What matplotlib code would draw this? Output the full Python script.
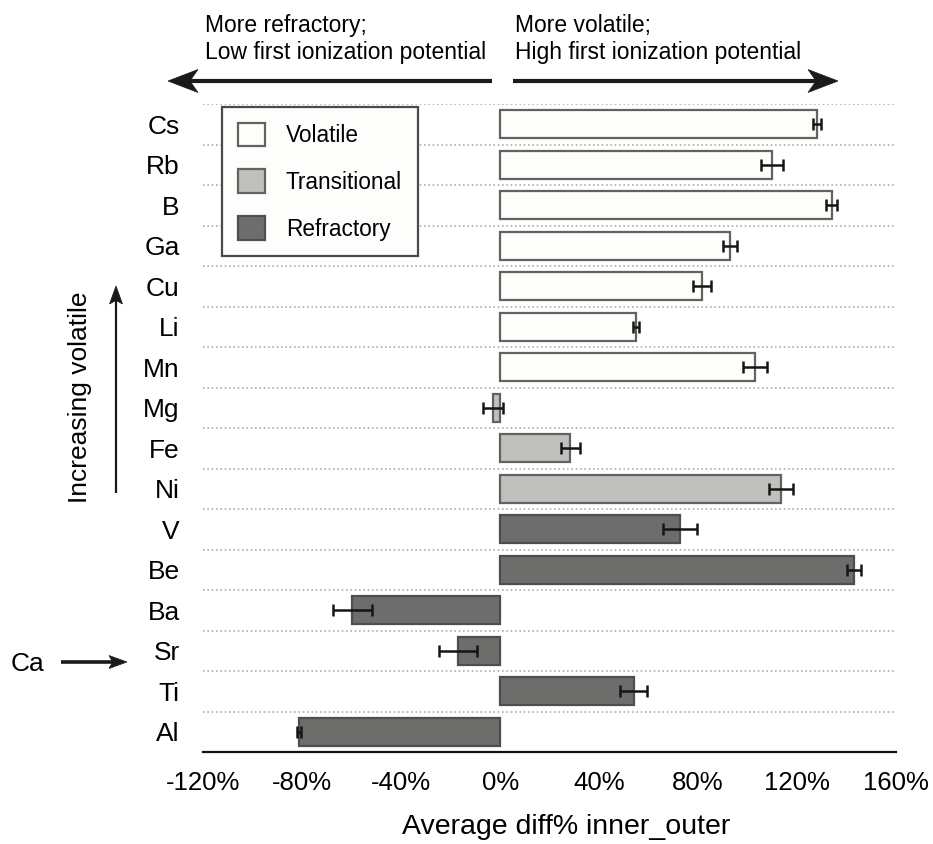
import numpy as np
import matplotlib
matplotlib.use("Agg")
from matplotlib import pyplot as plt
from matplotlib.patches import Patch, Polygon
from matplotlib.lines import Line2D

plt.rcParams['font.family'] = ['Liberation Sans', 'DejaVu Sans']

# === DATA ===
elements = ['Cs', 'Rb', 'B', 'Ga', 'Cu', 'Li', 'Mn', 'Mg',
            'Fe', 'Ni', 'V', 'Be', 'Ba', 'Sr', 'Ti', 'Al']
diff_pct = [128, 110, 134, 93, 81.5, 55, 103, -2.9,
            28.3, 113.6, 72.6, 143, -59.7, -17.1, 53.9, -81.4]
diff_err = [1.7, 4.4, 2.2, 2.8, 3.6, 1.3, 4.7, 4.0,
            3.8, 4.8, 6.8, 3.0, 8.0, 7.8, 5.3, 0.8]
groups = ['Volatile'] * 7 + ['Transitional'] * 3 + ['Refractory'] * 6
group_names = ['Volatile', 'Transitional', 'Refractory']
x_ticks = [-120, -80, -40, 0, 40, 80, 120, 160]

face = {'Volatile': '#fdfdf9', 'Transitional': '#c0c0bc', 'Refractory': '#6d6d6b'}
edge = {'Volatile': '#626262', 'Transitional': '#626262', 'Refractory': '#4e4e4e'}

W, H = 933, 844


def fx(px):
    return px / W


def fy(py):
    return 1 - py / H


def stealth_arrow(fig, x0, y0, x1, y1, lw, head_len, head_w, notch=0.27, color='#1a1a1a'):
    # arrow in figure pixel coords (y down) with a concave (stealth) head
    u = np.array([x1 - x0, y1 - y0], dtype=float)
    u /= np.hypot(*u)
    nrm = np.array([-u[1], u[0]])
    tip = np.array([x1, y1], dtype=float)
    back = tip - u * head_len
    inner = tip - u * head_len * (1 - notch)
    pts = [tip, back + nrm * head_w / 2, inner, back - nrm * head_w / 2]
    pts = [(fx(p[0]), fy(p[1])) for p in pts]
    fig.add_artist(Line2D([fx(x0), fx(inner[0])], [fy(y0), fy(inner[1])],
                          lw=lw, color=color, transform=fig.transFigure, solid_capstyle='butt'))
    fig.add_artist(Polygon(pts, closed=True, facecolor=color, edgecolor=color, lw=0.5,
                           transform=fig.transFigure))


fig = plt.figure(figsize=(W / 100, H / 100), dpi=100)
ax = fig.add_axes([fx(203.3), fy(752), (896 - 203.3) / W, (752 - 104) / H])

n = len(elements)
ypos = np.arange(n)[::-1]

# row separators
for k in range(n):
    ax.axhline(k + 0.5, color='#adadad', linestyle=(0, (1, 1.6)), linewidth=1.2, zorder=0)

ax.barh(ypos, diff_pct, height=0.69,
        color=[face[g] for g in groups], edgecolor=[edge[g] for g in groups],
        linewidth=1.6, zorder=2)
ax.errorbar(diff_pct, ypos, xerr=diff_err, fmt='none', ecolor='#151515',
            elinewidth=1.8, capsize=4.3, capthick=1.8, zorder=3)

ax.set_xlim(-120, 160)
ax.set_ylim(-0.5, n - 0.5)
ax.set_yticks(ypos)
ax.set_yticklabels(elements, fontsize=19)
ax.set_xticks(x_ticks)
ax.set_xticklabels([f'{t}%' for t in x_ticks], fontsize=18.5)
ax.tick_params(axis='y', length=0, pad=17)
ax.tick_params(axis='x', length=0, pad=14)

for side in ['top', 'right', 'left']:
    ax.spines[side].set_visible(False)
ax.spines['bottom'].set_linewidth(1.6)
ax.spines['bottom'].set_color('#111111')

ax.set_xlabel('Average diff% inner_outer', fontsize=20.5, va='center')
ax.xaxis.set_label_coords((566 - 203.3) / (896 - 203.3), (752 - 827) / 648)

# legend
handles = [Patch(facecolor=face[g], edgecolor=edge[g], linewidth=1.6, label=g) for g in group_names]
leg = ax.legend(handles=handles, loc='upper left', bbox_to_anchor=(fx(222.3), fy(106.7)),
                bbox_transform=fig.transFigure, fontsize=16.3, frameon=True, fancybox=False,
                handlelength=1.2, handleheight=1.2, handletextpad=0.9, labelspacing=1.0,
                borderpad=0.7, borderaxespad=0)
leg.get_frame().set_edgecolor('#4a4a4a')
leg.get_frame().set_linewidth(1.6)
leg.get_frame().set_facecolor('#fdfdfb')
leg.get_frame().set_alpha(1)

# annotations around the axes
fig.text(fx(205), fy(39), 'More refractory;\nLow first ionization potential',
         ha='left', va='center', fontsize=16.5, linespacing=1.2)
fig.text(fx(515), fy(39), 'More volatile;\nHigh first ionization potential',
         ha='left', va='center', fontsize=16.5, linespacing=1.2)

stealth_arrow(fig, 492, 81, 168, 81, lw=3, head_len=30, head_w=23)
stealth_arrow(fig, 513, 81, 838, 81, lw=3, head_len=30, head_w=23)

fig.text(fx(80), fy(397), 'Increasing volatile', rotation=90,
         ha='center', va='center', fontsize=19)
stealth_arrow(fig, 116, 493, 116, 286, lw=1.6, head_len=18, head_w=13, notch=0.2)

fig.text(fx(27), fy(664), 'Ca', ha='center', va='center', fontsize=19)
stealth_arrow(fig, 61, 662, 127, 662, lw=2.6, head_len=18, head_w=13, notch=0.2)

fig.savefig('out.png', dpi=100, facecolor='white')
